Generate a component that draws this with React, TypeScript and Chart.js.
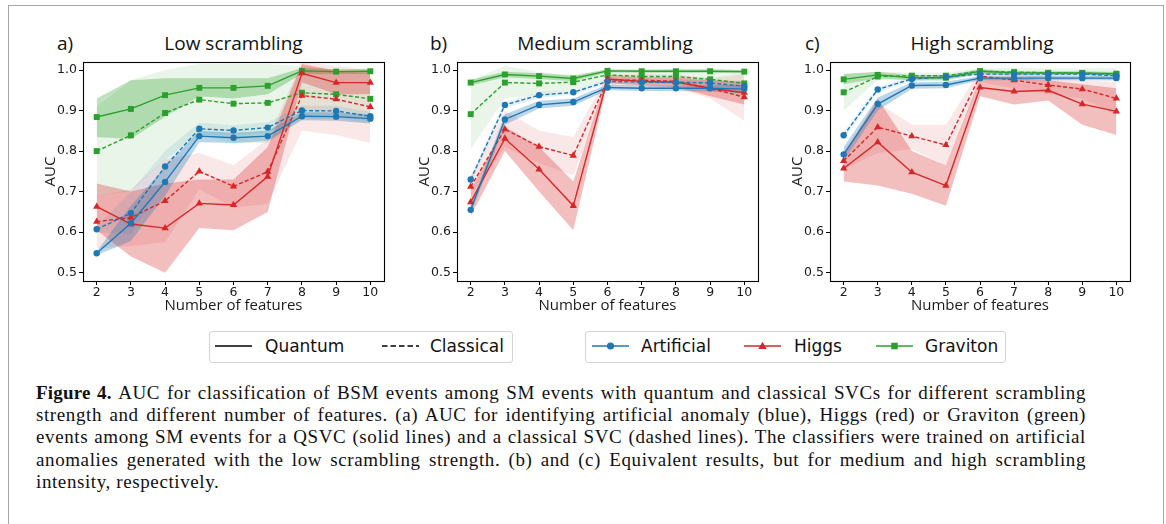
import React, { useEffect, useRef } from 'react';
import { Chart, registerables } from 'chart.js';

Chart.register(...registerables);

// ---------- shared axis values ----------
const features = [2, 3, 4, 5, 6, 7, 8, 9, 10];
const aucTicks = [0.5, 0.6, 0.7, 0.8, 0.9, 1.0];

// ---------- a) Low scrambling ----------
const lowArtQ = [0.548, 0.622, 0.724, 0.837, 0.833, 0.837, 0.886, 0.885, 0.880];
const lowArtQLo = [0.543, 0.578, 0.69, 0.822, 0.82, 0.825, 0.876, 0.875, 0.868];
const lowArtQHi = [0.553, 0.665, 0.76, 0.85, 0.845, 0.85, 0.896, 0.895, 0.89];
const lowArtC = [0.607, 0.647, 0.762, 0.855, 0.851, 0.858, 0.900, 0.899, 0.886];
const lowArtCLo = [0.60, 0.595, 0.725, 0.84, 0.838, 0.845, 0.888, 0.887, 0.875];
const lowArtCHi = [0.614, 0.70, 0.80, 0.87, 0.864, 0.871, 0.912, 0.911, 0.897];
const lowHigQ = [0.663, 0.620, 0.610, 0.671, 0.667, 0.737, 0.992, 0.969, 0.969];
const lowHigQLo = [0.605, 0.54, 0.50, 0.61, 0.605, 0.65, 0.97, 0.94, 0.94];
const lowHigQHi = [0.72, 0.70, 0.72, 0.73, 0.73, 0.81, 1.015, 0.998, 0.998];
const lowHigC = [0.626, 0.636, 0.677, 0.750, 0.713, 0.749, 0.937, 0.928, 0.909];
const lowHigCLo = [0.56, 0.565, 0.575, 0.705, 0.66, 0.67, 0.85, 0.84, 0.82];
const lowHigCHi = [0.69, 0.705, 0.78, 0.795, 0.765, 0.83, 1.02, 1.01, 1.0];
const lowGraQ = [0.884, 0.904, 0.938, 0.956, 0.956, 0.961, 0.998, 0.996, 0.997];
const lowGraQLo = [0.835, 0.83, 0.885, 0.935, 0.93, 0.94, 0.99, 0.99, 0.99];
const lowGraQHi = [0.93, 0.975, 0.98, 0.98, 0.98, 0.98, 1.005, 1.002, 1.003];
const lowGraC = [0.800, 0.839, 0.894, 0.927, 0.917, 0.919, 0.944, 0.940, 0.929];
const lowGraCLo = [0.69, 0.70, 0.78, 0.84, 0.82, 0.82, 0.88, 0.88, 0.87];
const lowGraCHi = [0.91, 0.975, 1.0, 1.015, 1.015, 1.015, 1.01, 1.0, 0.99];

// ---------- b) Medium scrambling ----------
const medArtQ = [0.655, 0.878, 0.914, 0.921, 0.957, 0.955, 0.955, 0.955, 0.953];
const medArtQLo = [0.645, 0.865, 0.905, 0.912, 0.95, 0.948, 0.948, 0.947, 0.943];
const medArtQHi = [0.665, 0.89, 0.924, 0.93, 0.964, 0.962, 0.962, 0.963, 0.963];
const medArtC = [0.730, 0.914, 0.938, 0.945, 0.972, 0.970, 0.970, 0.968, 0.960];
const medArtCLo = [0.722, 0.906, 0.931, 0.939, 0.966, 0.964, 0.964, 0.961, 0.951];
const medArtCHi = [0.738, 0.922, 0.945, 0.951, 0.978, 0.976, 0.976, 0.975, 0.969];
const medHigQ = [0.674, 0.831, 0.755, 0.665, 0.978, 0.972, 0.970, 0.955, 0.944];
const medHigQLo = [0.64, 0.80, 0.70, 0.605, 0.968, 0.962, 0.958, 0.935, 0.915];
const medHigQHi = [0.705, 0.86, 0.81, 0.725, 0.988, 0.982, 0.982, 0.975, 0.973];
const medHigC = [0.712, 0.854, 0.811, 0.789, 0.975, 0.975, 0.972, 0.955, 0.933];
const medHigCLo = [0.69, 0.81, 0.77, 0.74, 0.962, 0.96, 0.955, 0.93, 0.875];
const medHigCHi = [0.735, 0.90, 0.85, 0.835, 0.988, 0.99, 0.989, 0.98, 0.99];
const medGraQ = [0.969, 0.989, 0.985, 0.979, 0.998, 0.997, 0.997, 0.997, 0.996];
const medGraQLo = [0.962, 0.982, 0.978, 0.972, 0.994, 0.993, 0.993, 0.993, 0.992];
const medGraQHi = [0.976, 0.996, 0.992, 0.986, 1.002, 1.001, 1.001, 1.001, 1.0];
const medGraC = [0.891, 0.969, 0.967, 0.970, 0.988, 0.984, 0.984, 0.977, 0.967];
const medGraCLo = [0.805, 0.93, 0.94, 0.952, 0.975, 0.97, 0.965, 0.95, 0.935];
const medGraCHi = [0.975, 1.01, 0.995, 0.988, 1.0, 0.999, 1.003, 1.004, 1.0];

// ---------- c) High scrambling ----------
const highArtQ = [0.792, 0.916, 0.962, 0.963, 0.980, 0.980, 0.980, 0.980, 0.980];
const highArtQLo = [0.775, 0.90, 0.954, 0.955, 0.975, 0.975, 0.975, 0.975, 0.974];
const highArtQHi = [0.81, 0.932, 0.97, 0.971, 0.985, 0.985, 0.985, 0.985, 0.986];
const highArtC = [0.839, 0.952, 0.978, 0.983, 0.990, 0.990, 0.990, 0.990, 0.986];
const highArtCLo = [0.83, 0.945, 0.972, 0.978, 0.986, 0.986, 0.986, 0.986, 0.981];
const highArtCHi = [0.848, 0.959, 0.984, 0.988, 0.994, 0.994, 0.994, 0.994, 0.991];
const highHigQ = [0.757, 0.822, 0.748, 0.715, 0.957, 0.947, 0.950, 0.916, 0.898];
const highHigQLo = [0.725, 0.715, 0.695, 0.665, 0.935, 0.915, 0.925, 0.865, 0.84];
const highHigQHi = [0.79, 0.93, 0.80, 0.765, 0.98, 0.98, 0.975, 0.965, 0.955];
const highHigC = [0.776, 0.859, 0.837, 0.815, 0.985, 0.975, 0.963, 0.953, 0.930];
const highHigCLo = [0.755, 0.795, 0.805, 0.765, 0.97, 0.955, 0.94, 0.93, 0.89];
const highHigCHi = [0.80, 0.92, 0.865, 0.865, 1.0, 0.995, 0.985, 0.975, 0.97];
const highGraQ = [0.977, 0.988, 0.981, 0.981, 0.997, 0.993, 0.993, 0.993, 0.991];
const highGraQLo = [0.965, 0.98, 0.974, 0.974, 0.992, 0.989, 0.989, 0.989, 0.987];
const highGraQHi = [0.99, 0.996, 0.988, 0.988, 1.002, 0.997, 0.997, 0.997, 0.995];
const highGraC = [0.945, 0.984, 0.986, 0.986, 0.997, 0.995, 0.993, 0.992, 0.989];
const highGraCLo = [0.90, 0.975, 0.978, 0.978, 0.99, 0.985, 0.982, 0.98, 0.975];
const highGraCHi = [0.99, 0.995, 0.994, 0.994, 1.004, 1.005, 1.004, 1.004, 1.005];

// ---------- styling ----------
const BLUE = '#1f77b4';
const RED = '#d62728';
const GREEN = '#2ca02c';
const rgba = (hex: string, a: number) => {
  const n = parseInt(hex.slice(1), 16);
  return `rgba(${(n >> 16) & 255},${(n >> 8) & 255},${n & 255},${a})`;
};
const MARKERS: Record<string, { style: string; r: number }> = {
  [BLUE]: { style: 'circle', r: 3.2 },
  [RED]: { style: 'triangle', r: 4.2 },
  [GREEN]: { style: 'rect', r: 4.2 },
};
const TICK_FONT = 'DejaVu Sans';
const LABEL_FONT = 'Open Sans';

type Series = { mean: number[]; lo: number[]; hi: number[]; color: string; dashed: boolean };

const S = (mean: number[], lo: number[], hi: number[], color: string, dashed: boolean): Series => ({ mean, lo, hi, color, dashed });

const lowSeries: Series[] = [
  S(lowArtQ, lowArtQLo, lowArtQHi, BLUE, false), S(lowArtC, lowArtCLo, lowArtCHi, BLUE, true),
  S(lowHigQ, lowHigQLo, lowHigQHi, RED, false), S(lowHigC, lowHigCLo, lowHigCHi, RED, true),
  S(lowGraQ, lowGraQLo, lowGraQHi, GREEN, false), S(lowGraC, lowGraCLo, lowGraCHi, GREEN, true),
];
const medSeries: Series[] = [
  S(medArtQ, medArtQLo, medArtQHi, BLUE, false), S(medArtC, medArtCLo, medArtCHi, BLUE, true),
  S(medHigQ, medHigQLo, medHigQHi, RED, false), S(medHigC, medHigCLo, medHigCHi, RED, true),
  S(medGraQ, medGraQLo, medGraQHi, GREEN, false), S(medGraC, medGraCLo, medGraCHi, GREEN, true),
];
const highSeries: Series[] = [
  S(highArtQ, highArtQLo, highArtQHi, BLUE, false), S(highArtC, highArtCLo, highArtCHi, BLUE, true),
  S(highHigQ, highHigQLo, highHigQHi, RED, false), S(highHigC, highHigCLo, highHigCHi, RED, true),
  S(highGraQ, highGraQLo, highGraQHi, GREEN, false), S(highGraC, highGraCLo, highGraCHi, GREEN, true),
];

const pts = (ys: number[]) => features.map((x, i) => ({ x, y: ys[i] }));

const framePlugin = {
  id: 'axesFrame',
  afterDatasetsDraw(chart: any) {
    const { ctx, chartArea: a } = chart;
    ctx.save();
    ctx.strokeStyle = '#000';
    ctx.lineWidth = 1.1;
    ctx.strokeRect(Math.round(a.left) + 0.5, Math.round(a.top) + 0.5, Math.round(a.right - a.left), Math.round(a.bottom - a.top));
    ctx.restore();
  },
};

function makeConfig(series: Series[]): any {
  const lines: any[] = [];
  const bands: any[] = [];
  series.forEach((s) => {
    const m = MARKERS[s.color];
    lines.push({
      data: pts(s.mean),
      borderColor: s.color,
      backgroundColor: s.color,
      borderWidth: 1.4,
      borderDash: s.dashed ? [4, 2.2] : [],
      pointStyle: m.style,
      pointRadius: m.r,
      pointBorderWidth: 0,
      pointBackgroundColor: s.color,
      fill: false,
      tension: 0,
    });
    bands.push({
      data: pts(s.lo),
      borderColor: 'rgba(0,0,0,0)',
      borderWidth: 0,
      pointRadius: 0,
      fill: false,
    });
    bands.push({
      data: pts(s.hi),
      borderColor: 'rgba(0,0,0,0)',
      borderWidth: 0,
      pointRadius: 0,
      fill: '-1',
      backgroundColor: rgba(s.color, s.dashed ? 0.11 : 0.3),
    });
  });
  return {
    type: 'line',
    data: { datasets: [...lines, ...bands] },
    options: {
      responsive: false,
      animation: false,
      devicePixelRatio: 1,
      events: [],
      layout: { padding: { top: 10, right: 6, left: 0, bottom: 0 } },
      plugins: {
        legend: { display: false },
        tooltip: { enabled: false },
        title: { display: false },
        filler: { propagate: false, drawTime: 'beforeDatasetsDraw' },
      },
      scales: {
        x: {
          type: 'linear',
          min: 1.6,
          max: 10.4,
          afterBuildTicks: (axis: any) => { axis.ticks = features.map((v) => ({ value: v })); },
          afterFit: (scale: any) => { scale.height = 34; },
          grid: { display: true, drawOnChartArea: false, drawTicks: true, tickLength: 4, color: '#000', lineWidth: 1 },
          border: { display: false },
          ticks: { autoSkip: false, maxRotation: 0, padding: 0, color: '#1a1a1a', font: { family: TICK_FONT, size: 12.5 }, callback: (v: any) => String(v) },
          title: { display: true, text: 'Number of features', color: '#1a1a1a', padding: 0, font: { family: LABEL_FONT, size: 15 } },
        },
        y: {
          type: 'linear',
          min: 0.4795,
          max: 1.0198,
          afterBuildTicks: (axis: any) => { axis.ticks = aucTicks.map((v) => ({ value: v })); },
          afterFit: (scale: any) => { scale.width = 41; },
          grid: { display: true, drawOnChartArea: false, drawTicks: true, tickLength: 4, color: '#000', lineWidth: 1 },
          border: { display: false },
          ticks: { padding: 2, color: '#1a1a1a', font: { family: TICK_FONT, size: 12.5 }, callback: (v: any) => Number(v).toFixed(1) },
          title: { display: true, text: 'AUC', color: '#1a1a1a', padding: 0, font: { family: LABEL_FONT, size: 15 } },
        },
      },
    },
    plugins: [framePlugin],
  };
}

function Panel({ series, left, width }: { series: Series[]; left: number; width: number }) {
  const ref = useRef<HTMLCanvasElement>(null);
  useEffect(() => {
    const chart = new Chart(ref.current as HTMLCanvasElement, makeConfig(series));
    return () => chart.destroy();
  }, [series]);
  const top = 52;
  const height = 263;
  return (
    <canvas
      ref={ref}
      width={width}
      height={height}
      style={{ position: 'absolute', left, top, width, height }}
    />
  );
}

const panelTitles = [
  { tag: 'a)', tagX: 57, title: 'Low scrambling', cx: 233.5 },
  { tag: 'b)', tagX: 430, title: 'Medium scrambling', cx: 605 },
  { tag: 'c)', tagX: 805, title: 'High scrambling', cx: 982 },
];

const captionLines = [
  'AUC for classification of BSM events among SM events with quantum and classical SVCs for different scrambling',
  'strength and different number of features. (a) AUC for identifying artificial anomaly (blue), Higgs (red) or Graviton (green)',
  'events among SM events for a QSVC (solid lines) and a classical SVC (dashed lines). The classifiers were trained on artificial',
  'anomalies generated with the low scrambling strength. (b) and (c) Equivalent results, but for medium and high scrambling',
  'intensity, respectively.',
];

function Marker({ color, x, y }: { color: string; x: number; y: number }) {
  if (color === BLUE) return <circle cx={x} cy={y} r={3.6} fill={color} />;
  if (color === RED) return <polygon points={`${x},${y - 4.3} ${x + 4.2},${y + 2.9} ${x - 4.2},${y + 2.9}`} fill={color} />;
  return <rect x={x - 3.3} y={y - 3.3} width={6.6} height={6.6} fill={color} />;
}

function Sample({ left, color, dashed, marker }: { left: number; color: string; dashed?: boolean; marker?: boolean }) {
  return (
    <svg width={38} height={12} style={{ position: 'absolute', left, top: 340 }}>
      <line x1={0} y1={6} x2={37} y2={6} stroke={color} strokeWidth={1.6} strokeDasharray={dashed ? '5.5 3' : undefined} />
      {marker ? <Marker color={color} x={18.5} y={6} /> : null}
    </svg>
  );
}

const legendText: React.CSSProperties = {
  position: 'absolute',
  top: 335,
  fontFamily: 'DejaVu Sans',
  fontSize: 17,
  lineHeight: '22px',
  color: '#111',
  whiteSpace: 'nowrap',
};

const legendBox: React.CSSProperties = {
  position: 'absolute',
  top: 331,
  height: 30,
  border: '1px solid #d4d4d4',
  borderRadius: 3,
  background: '#fff',
};

export default function App() {
  return (
    <div style={{ position: 'fixed', left: 0, top: 0, width: 1166, height: 524, overflow: 'hidden', background: '#fff' }}>
      <div style={{ position: 'absolute', left: 8, top: 5, width: 1154, height: 600, border: '1px solid #a6a6a6' }} />

      {panelTitles.map((p) => (
        <React.Fragment key={p.tag}>
          <div style={{ position: 'absolute', left: p.tagX, top: 30, fontFamily: LABEL_FONT, fontSize: 19, lineHeight: '26px', color: '#111' }}>{p.tag}</div>
          <div style={{ position: 'absolute', left: p.cx - 150, width: 300, top: 30, textAlign: 'center', fontFamily: LABEL_FONT, fontSize: 19, lineHeight: '26px', color: '#111' }}>{p.title}</div>
        </React.Fragment>
      ))}

      <Panel series={lowSeries} left={42} width={348} />
      <Panel series={medSeries} left={416} width={348} />
      <Panel series={highSeries} left={789} width={347} />

      <div style={{ ...legendBox, left: 209, width: 302 }} />
      <Sample left={215} color="#000" />
      <div style={{ ...legendText, left: 265 }}>Quantum</div>
      <Sample left={382} color="#000" dashed />
      <div style={{ ...legendText, left: 430 }}>Classical</div>

      <div style={{ ...legendBox, left: 585, width: 419 }} />
      <Sample left={592} color={BLUE} marker />
      <div style={{ ...legendText, left: 641 }}>Artificial</div>
      <Sample left={744} color={RED} marker />
      <div style={{ ...legendText, left: 794 }}>Higgs</div>
      <Sample left={876} color={GREEN} marker />
      <div style={{ ...legendText, left: 925 }}>Graviton</div>

      <div style={{ position: 'absolute', left: 36, top: 382, width: 1050, fontFamily: 'Liberation Serif', fontSize: 19, lineHeight: '22.2px', color: '#111' }}>
        {captionLines.map((line, i) => (
          <div
            key={i}
            style={{
              textAlign: i < captionLines.length - 1 ? 'justify' : 'left',
              textAlignLast: i < captionLines.length - 1 ? 'justify' : 'left',
              whiteSpace: 'nowrap',
              letterSpacing: '0.6px',
            } as React.CSSProperties}
          >
            {i === 0 ? <b style={{ letterSpacing: '0.2px' }}>Figure 4. </b> : null}
            {line}
          </div>
        ))}
      </div>
    </div>
  );
}
